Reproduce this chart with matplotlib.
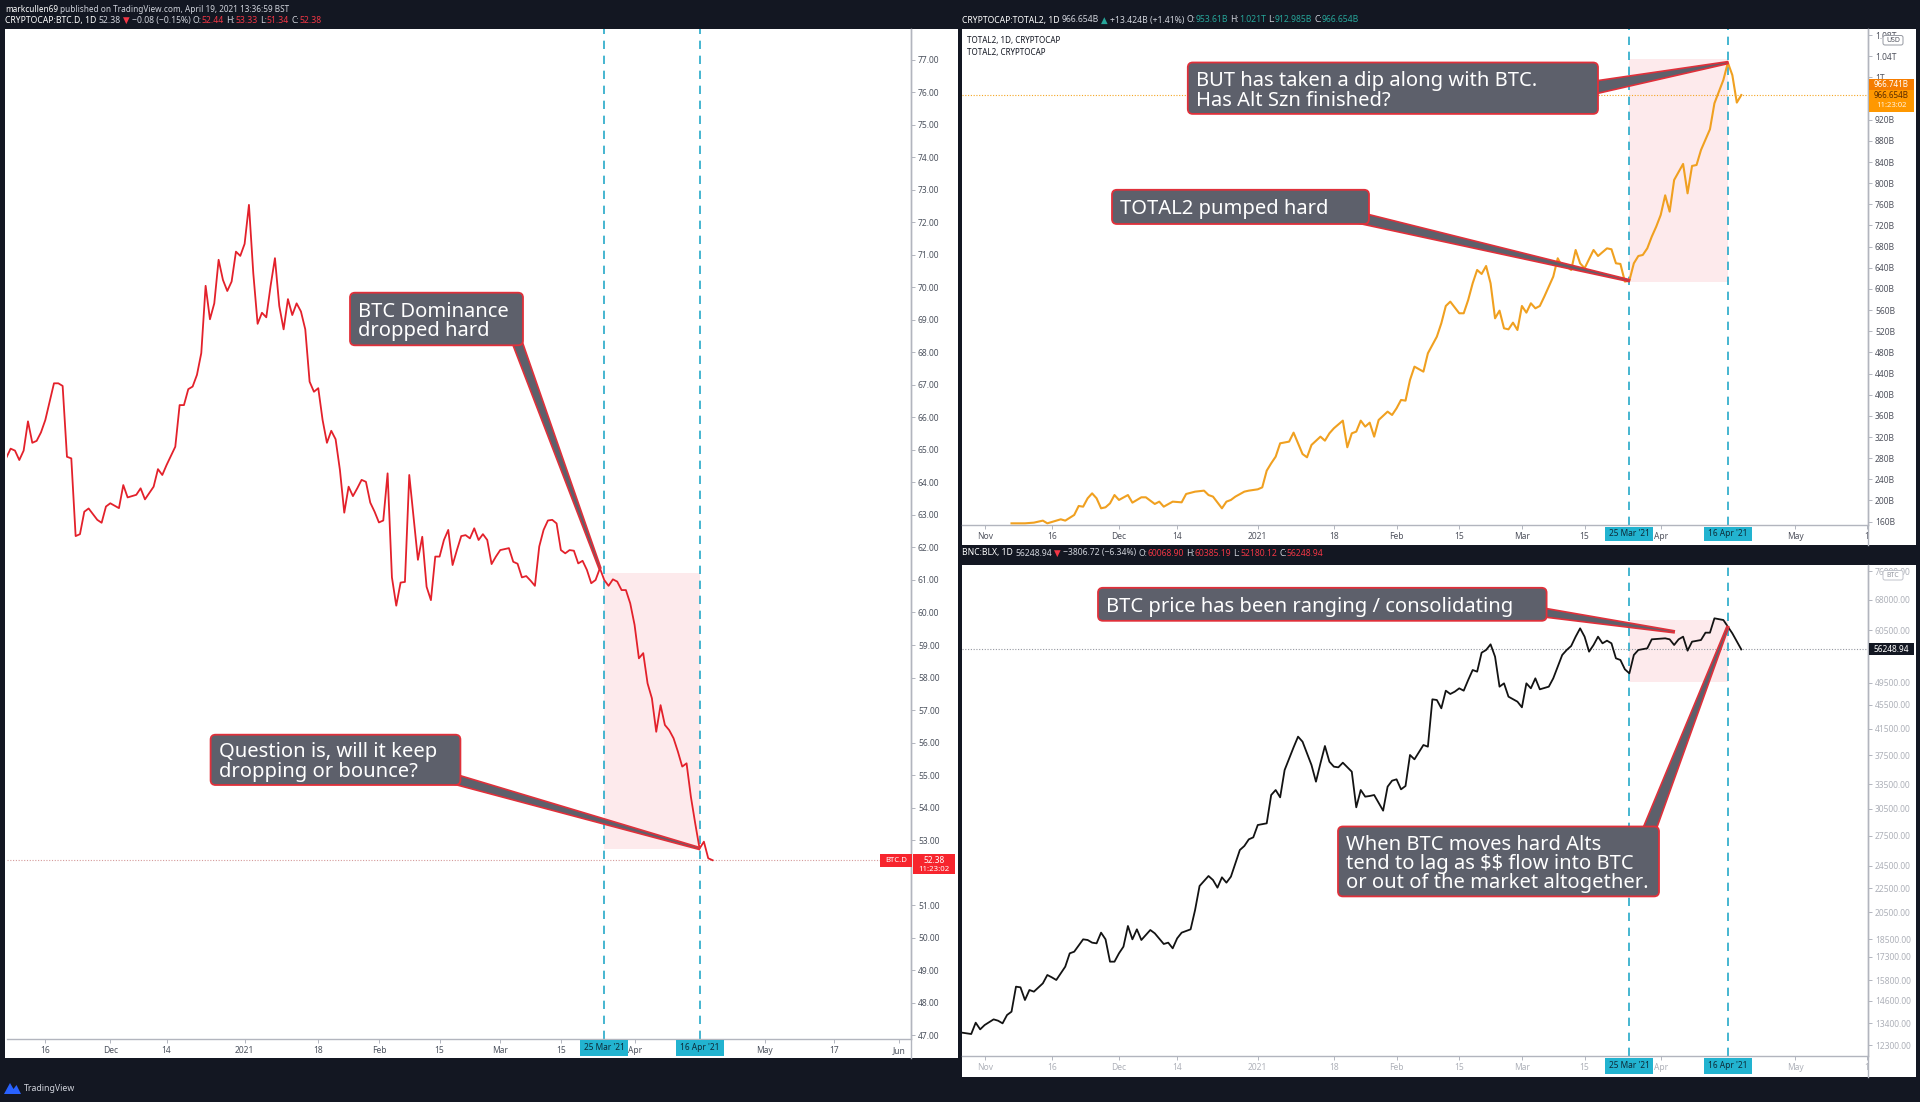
import matplotlib
matplotlib.use("Agg")
import math
import matplotlib.pyplot as plt
import matplotlib.dates as mdates
from matplotlib.patches import Rectangle, FancyBboxPatch, Polygon
from matplotlib.lines import Line2D
from matplotlib.transforms import IdentityTransform
from matplotlib.ticker import NullLocator, NullFormatter
import pandas as pd

plt.rcParams['font.family'] = ['Noto Sans', 'DejaVu Sans']

# ---------------- data ----------------
btcd_start = '2020-11-16'
btcd_day = [-9,-8,-7,-6,-5,-4,-3,-2,-1,0,2,3,4,5,6,7,8,9,10,12,13,14,15,17,18,19,21,22,23,25,26,27,28,
            30,31,32,33,34,35,36,37,38,39,40,41,42,43,44,45,46,47,48,49,50,51,52,53,54,55,56,57,58,59,60,
            61,62,63,64,65,66,67,68,69,70,71,72,73,74,75,76,77,78,79,80,81,82,83,84,
            86,87,88,89,90,91,92,93,94,95,96,97,98,99,100,101,102,103,104,105,
            107,108,109,110,111,112,113,114,115,116,117,118,119,120,121,122,123,124,125,126,127,128,129,130,
            131,132,133,134,135,136,137,138,139,140,141,142,143,144,145,146,147,148,149,150,151,152,153,154]
btcd_val = [64.76,65.04,64.98,64.69,64.98,65.88,65.22,65.28,65.54,65.92,
            67.05,67.05,66.97,64.79,64.74,62.35,62.41,63.10,63.20,
            62.85,62.76,63.26,63.36, 63.21,63.92,63.54, 63.62,63.82,63.48, 63.87,64.41,64.23,64.54,
            65.10,66.38,66.38,66.87,66.95,67.31,67.98,70.05,69.02,69.51,70.85,70.23,69.89,70.18,71.10,70.97,
            71.34,72.54,70.44,68.88,69.22,69.08,70.05,70.90,69.43,68.71,69.64,69.15,69.51,69.26,68.71,
            67.10,66.79,66.90,65.92,65.22,65.59,65.33,64.38,63.07,63.87,63.58,63.82,64.08,64.02,63.38,
            63.10,62.77,62.83,64.28,61.08,60.21,60.92,60.94,64.23,
            61.62,62.33,60.79,60.38,61.72,61.72,62.23,62.54,61.46,61.92,62.35,62.38,62.28,62.59,62.23,
            62.41,62.23,61.49,61.72,61.92,
            61.98,61.56,61.50,61.08,61.12,60.98,60.82,62.03,62.54,62.83,62.85,62.74,61.92,61.82,61.92,
            61.90,61.51,61.59,61.31,60.90,61.00,61.36,61.00,60.82,61.02,60.95,60.69,60.69,60.28,59.62,
            58.59,58.75,57.82,57.36,56.33,57.15,56.54,56.38,56.13,55.72,55.26,55.36,54.33,53.51,52.74,
            52.95,52.44,52.38]

total2_start = '2020-11-01'
total2_day = [6,9,11,13,14,17,18,20,21,22,23,24,25,26,27,28,29,30,32,33,35,36,38,39,40,42,44,45,47,49,50,51,
              53,54,55,56,58,59,61,62,63,64,65,66,68,69,70,71,72,73,75,76,77,78,80,81,82,83,84,85,86,87,88,
              90,91,92,93,94,95,96,98,99,101,102,103,104,106,107,108,109,110,111,112,113,114,115,116,117,118,
              119,120,121,122,123,124,125,127,128,129,130,131,132,133,134,136,137,139,140,141,142,143,144,145,
              146,147,148,149,150,151,152,153,154,156,157,158,159,160,162,163,165,166,167,168,169]
total2_val = [156.8,156.8,158.1,161.9,156.8,164.4,161.9,172.6,189.6,188.3,204.1,213.5,204.1,185.2,187.1,
              194.6,210.3,201.0,210.3,195.9,206.0,206.0,193.4,197.8,188.3,197.8,196.5,212.3,216.7,218.6,
              210.3,207.3,185.2,197.8,201.0,207.3,216.7,218.6,221.1,224.8,256.4,270.3,282.9,308.1,311.3,
              328.3,308.1,287.9,281.6,305.0,320.7,313.1,327.0,336.5,351.0,300.6,327.0,330.2,351.0,339.7,
              347.2,320.7,352.2,368.0,361.7,374.3,390.1,388.8,427.8,453.1,443.6,478.4,509.8,535.1,567.8,
              576.0,554.0,554.0,579.2,610.7,635.9,628.3,643.4,610.7,544.5,559.0,525.6,523.6,536.3,522.4,
              567.8,555.2,572.9,563.4,567.8,585.5,623.3,658.0,642.2,642.2,635.9,673.7,648.5,639.1,673.7,
              662.3,676.8,675.0,648.5,647.3,613.9,615.7,648.5,662.3,664.3,676.8,698.9,717.9,739.9,777.1,
              746.2,806.1,836.4,780.8,832.6,834.4,862.8,902.0,951.1,995.3,1028.0,1004.3,952.4,966.654]

btc_start = '2020-11-01'
btc_day = [-5,-3,-2,-1,0,2,3,4,5,6,7,8,9,10,11,13,14,15,16,18,19,20,22,23,24,25,26,27,28,29,30,31,32,33,34,
           35,36,37,38,40,41,42,43,44,46,47,48,50,51,52,53,54,55,57,58,59,60,61,63,64,65,66,67,69,70,71,73,
           74,75,76,77,78,79,80,82,83,84,85,86,87,89,90,91,92,93,94,95,96,98,99,100,101,102,103,104,105,106,
           107,108,109,110,111,112,113,114,115,116,117,119,120,121,122,123,124,126,127,128,129,130,131,132,
           133,134,135,136,137,138,139,140,141,142,143,144,145,146,148,149,152,153,154,155,156,157,158,160,
           161,162,163,165,166,167,169]
btc_val = [12917,12851,13422,13083,13302,
           13595,13525,13388,13824,14002,15413,15373,14643,15217,15120,
           15611,16119,15975,15813,
           16642,17516,17628,
           18484,18437,18250,18202,18964,18484,16965,16965,17516,17971,19455,18484,19207,18437,18794,19158,18915,
           18157,18250,17856,18555,18964,
           19207,20687,22683,
           23571,23211,22539,23451,22975,23510,
           26045,26449,27132,27341,28667,
           28852,32166,32790,31881,35405,
           38625,40241,39476,
           36092,33857,36324,38823,36557,35862,35772,36415,
           35179,30681,32790,31961,32044,32166,
           30291,33212,33985,34162,32875,33298,37506,36888,
           38974,38725,46442,46322,44866,48011,47405,47828,48445,48011,50019,51978,51647,55552,56126,57358,
           54709,48755,49384,46919,
           46029,45039,49384,48445,50341,48260,
           48755,50341,52645,55058,56126,56991,59069,60990,59069,55768,57215,59069,57582,58172,57582,54359,
           54012,52113,51317,55058,56126,
           56487,58470,
           58698,58470,57215,58470,59069,55982,57946,
           58318,59985,59985,63379,
           62974,61382,59830,
           56248.94]

marker_dates = ['2021-03-25', '2021-04-16']
marker_labels = ["25 Mar '21", "16 Apr '21"]

btcd_last, total2_last, btc_last = 52.38, 966.654, 56248.94
btcd_zone = (52.74, 61.22)
total2_zone = (613.9, 1035.3)
btc_zone = (49640, 63070)

left_yticks = [v for v in range(47, 78) if v != 52]
left_xtick_dates = ['2020-11-16','2020-12-01','2020-12-14','2021-01-01','2021-01-18','2021-02-01',
                    '2021-02-15','2021-03-01','2021-03-15','2021-04-01','2021-05-01','2021-05-17','2021-06-01']
left_xtick_labels = ['16','Dec','14','2021','18','Feb','15','Mar','15','Apr','May','17','Jun']
right_xtick_dates = ['2020-11-01','2020-11-16','2020-12-01','2020-12-14','2021-01-01','2021-01-18',
                     '2021-02-01','2021-02-15','2021-03-01','2021-03-15','2021-04-01','2021-05-01','2021-05-17']
right_xtick_labels = ['Nov','16','Dec','14','2021','18','Feb','15','Mar','15','Apr','May','1']
total2_yticks = [v for v in range(160, 1081, 40) if v != 960]
total2_ylabels = [('1T' if v == 1000 else f'{v/1000:.2f}T') if v >= 1000 else f'{v}B' for v in total2_yticks]
btc_yticks = [12300,13400,14600,15800,17300,18500,20500,22500,24500,27500,30500,33500,37500,41500,
              45500,49500,60500,68000,76000]

# ---------------- figure helpers ----------------
W, H = 1920, 1102
BG = '#131722'
RED = '#f23645'
GREEN = '#26a69a'
LIGHT = '#d1d4dc'
CALL_BG = '#5d606b'
CALL_EDGE = '#e0303a'
CYAN = '#26a9c8'

fig = plt.figure(figsize=(W / 100, H / 100), dpi=100)
fig.patch.set_facecolor(BG)


def dnum(s):
    return mdates.date2num(pd.Timestamp(s))


def to_dates(start, days):
    return pd.Timestamp(start) + pd.to_timedelta(days, unit='D')


def add_ax(x0, y0, x1, y1):
    return fig.add_axes([x0 / W, 1 - y1 / H, (x1 - x0) / W, (y1 - y0) / H])


def prect(x0, y0, x1, y1, **kw):
    p = Rectangle((x0, H - y1), x1 - x0, y1 - y0, transform=IdentityTransform(), **kw)
    fig.add_artist(p)
    return p


def pline(x0, y0, x1, y1, **kw):
    fig.add_artist(Line2D([x0, x1], [H - y0, H - y1], transform=IdentityTransform(), **kw))


def ptext(x, y, s, **kw):
    return fig.text(x / W, 1 - y / H, s, parse_math=False, **kw)


def data_px(ax, x, y):
    dx, dy = ax.transData.transform((x, y))
    return dx, H - dy


def style(ax, lab_color):
    ax.set_facecolor('white')
    for s in ['top', 'left']:
        ax.spines[s].set_visible(False)
    for s in ['right', 'bottom']:
        ax.spines[s].set_color('#b2b5be')
        ax.spines[s].set_linewidth(1)
    ax.yaxis.tick_right()
    ax.tick_params(axis='both', which='major', length=3, width=0.7, color='#b2b5be',
                   labelsize=6.1, labelcolor=lab_color, pad=2)
    ax.tick_params(axis='both', which='minor', length=0)


def callout(ax, text, box, anchor, half_w, tip, fs=14.5, step=20):
    x0, y0, x1, y1 = box
    tx, ty = ax.transData.transform(tip)
    ax_, ay_ = anchor[0], H - anchor[1]
    dx, dy = tx - ax_, ty - ay_
    L = math.hypot(dx, dy)
    px, py = -dy / L, dx / L
    pts = [(ax_ + px * half_w, ay_ + py * half_w), (tx + px * 1.0, ty + py * 1.0),
           (tx - px * 1.0, ty - py * 1.0), (ax_ - px * half_w, ay_ - py * half_w)]
    fig.add_artist(Polygon(pts, closed=True, transform=IdentityTransform(), facecolor=CALL_BG,
                           edgecolor=CALL_EDGE, lw=1.2, joinstyle='miter', zorder=5))
    fig.add_artist(FancyBboxPatch((x0, H - y1), x1 - x0, y1 - y0,
                                  boxstyle='round,pad=0,rounding_size=5', transform=IdentityTransform(),
                                  facecolor=CALL_BG, edgecolor=CALL_EDGE, lw=1.3, zorder=6))
    lines = text.split('\n')
    cy = (y0 + y1) / 2
    n = len(lines)
    for i, ln in enumerate(lines):
        ptext(x0 + 8, cy + (i - (n - 1) / 2) * step, ln, color='white', fontsize=fs,
              ha='left', va='center_baseline', zorder=7)


def mark_axis(ax, y0, y1, label_color):
    for d, lab in zip(marker_dates, marker_labels):
        x, _ = data_px(ax, dnum(d), ax.get_ylim()[0])
        prect(x - 24, y0, x + 24, y1, facecolor='#22b3d0', lw=0, zorder=4)
        ptext(x, (y0 + y1) / 2, lab, fontsize=6.0, color=label_color, ha='center', va='center', zorder=5)


def decorate(ax, zone):
    for d in marker_dates:
        ax.axvline(dnum(d), color=CYAN, lw=1.2, ls=(0, (5, 4)), zorder=2)
    x1, x2 = dnum(marker_dates[0]), dnum(marker_dates[1])
    ax.add_patch(Rectangle((x1, zone[0]), x2 - x1, zone[1] - zone[0], facecolor=RED, alpha=0.1,
                           lw=0, zorder=1))


def seg_line(x, y, segs, target_w, base=6.0):
    r = fig.canvas.get_renderer()

    def width(s, size, w='normal'):
        t = fig.text(0, 0, s, fontsize=size, fontweight=w, parse_math=False)
        bb = t.get_window_extent(renderer=r).width
        t.remove()
        return bb

    def layout(size, draw):
        sp = width('x x', size) - width('xx', size)
        cx = x
        for s, c, w in segs:
            if s.startswith(' '):
                cx += sp
                s = s[1:]
            if draw:
                ptext(cx, y, s, color=c, fontsize=size, fontweight=w, ha='left', va='center')
            cx += width(s, size, w)
        return cx - x

    tot = layout(base, False)
    layout(base * target_w / tot, True)


# ---------------- panels background ----------------
prect(5, 29, 958, 1058, facecolor='white', lw=0, zorder=0)
prect(962, 29, 1916, 545, facecolor='white', lw=0, zorder=0)
prect(962, 565, 1916, 1077, facecolor='white', lw=0, zorder=0)

# ---------------- left: BTC dominance ----------------
axL = add_ax(7, 29.3, 911, 1039)
style(axL, '#4c525e')
axL.plot(to_dates(btcd_start, btcd_day), btcd_val, color='#e3212b', lw=1.3, zorder=3)
x0L = dnum(btcd_start)
axL.set_xlim(x0L - 8.84, x0L + 199.8)
axL.set_ylim(46.88, 77.94)
axL.set_yticks(left_yticks)
axL.set_yticklabels([f'{v:.2f}' for v in left_yticks])
axL.set_xticks([dnum(d) for d in left_xtick_dates])
axL.set_xticklabels(left_xtick_labels)
decorate(axL, btcd_zone)
axL.axhline(btcd_last, color='#d49a9a', lw=0.8, ls=(0, (1, 1.5)), zorder=2)
pline(911, 29, 911, 1058, color='#b2b5be', lw=1)
mark_axis(axL, 1040, 1055.5, '#0d2a38')

btcd_map = dict(zip(btcd_day, btcd_val))
callout(axL, 'BTC Dominance\ndropped hard', (350, 292.7, 523, 345.3), (516, 339), 5,
        (dnum('2021-03-24'), btcd_map[128]))
callout(axL, 'Question is, will it keep\ndropping or bounce?', (210.6, 734.7, 460.4, 785), (454, 779), 5,
        (dnum('2021-04-16'), btcd_map[151]))

_, yl = data_px(axL, x0L, btcd_last)
prect(880, yl - 6.5, 912, yl + 6.5, facecolor='#f7252e', lw=0, zorder=4)
ptext(896, yl, 'BTC.D', color='white', fontsize=5.6, ha='center', va='center', zorder=5)
prect(913, yl - 6.5, 955, yl + 14, facecolor='#f7252e', lw=0, zorder=4)
ptext(934, yl, f'{btcd_last:.2f}', color='white', fontsize=6.0, ha='center', va='center', zorder=5)
ptext(934, yl + 9.5, '11:23:02', color='white', fontsize=5.6, ha='center', va='center', zorder=5)

# ---------------- top right: TOTAL2 ----------------
axT = add_ax(962, 29.3, 1868, 524.7)
style(axT, '#50535e')
axT.plot(to_dates(total2_start, total2_day), total2_val, color='#f0a020', lw=1.5, zorder=3)
x0R = dnum(total2_start)
axT.set_xlim(x0R - 5.06, x0R + 197.3)
axT.set_ylim(154.2, 1091.0)
axT.set_yticks(total2_yticks)
axT.set_yticklabels(total2_ylabels)
axT.set_xticks([dnum(d) for d in right_xtick_dates])
axT.set_xticklabels(right_xtick_labels)
decorate(axT, total2_zone)
axT.axhline(total2_last, color='#f5a623', lw=0.8, ls=(0, (1, 1.5)), zorder=2)
pline(1868, 29, 1868, 545, color='#b2b5be', lw=1)
mark_axis(axT, 526.5, 541, '#0d2a38')

t2_map = dict(zip(total2_day, total2_val))
callout(axT, 'BUT has taken a dip along with BTC.\nHas Alt Szn finished?', (1187.8, 62.5, 1598, 113.9),
        (1592, 88), 6.5, (dnum('2021-04-16'), t2_map[166]))
callout(axT, 'TOTAL2 pumped hard', (1112, 189.8, 1369, 224), (1360, 218), 5.5,
        (dnum('2021-03-25'), t2_map[144]))

ptext(967, 41, 'TOTAL2, 1D, CRYPTOCAP', color='#131722', fontsize=5.8, fontweight='bold',
      ha='left', va='center')
ptext(967, 53, 'TOTAL2, CRYPTOCAP', color='#131722', fontsize=5.8, ha='left', va='center')

_, yt = data_px(axT, x0R, total2_last)
prect(1869, 79, 1914, 89.5, facecolor='#f57c00', lw=0, zorder=4)
ptext(1891.5, 84.3, '966.741B', color='white', fontsize=5.8, ha='center', va='center', zorder=5)
prect(1869, 89.5, 1914, 112, facecolor='#ff9800', lw=0, zorder=4)
ptext(1891.5, yt, f'{total2_last:.3f}B', color='#5a2d00', fontsize=5.8, ha='center', va='center', zorder=5)
ptext(1891.5, 106, '11:23:02', color='#fff3e0', fontsize=5.5, ha='center', va='center', zorder=5)
fig.add_artist(FancyBboxPatch((1883, H - 45), 20, 9.5, boxstyle='round,pad=0,rounding_size=2',
                              transform=IdentityTransform(), facecolor='white', edgecolor='#9598a1',
                              lw=0.7, zorder=4))
ptext(1893, 40.3, 'USD', color='#50535e', fontsize=5, ha='center', va='center', zorder=5)

# ---------------- bottom right: BTC ----------------
axB = add_ax(962, 566, 1868, 1056)
style(axB, '#aeb1b9')
axB.set_yscale('log')
axB.plot(to_dates(btc_start, btc_day), btc_val, color='#131313', lw=1.3, zorder=3)
axB.set_xlim(x0R - 5.06, x0R + 197.3)
axB.set_ylim(11811, 77480)
axB.yaxis.set_minor_locator(NullLocator())
axB.yaxis.set_minor_formatter(NullFormatter())
axB.set_yticks(btc_yticks)
axB.set_yticklabels([f'{v:.2f}' for v in btc_yticks])
axB.yaxis.set_minor_locator(NullLocator())
axB.set_xticks([dnum(d) for d in right_xtick_dates])
axB.set_xticklabels(right_xtick_labels)
decorate(axB, btc_zone)
axB.axhline(btc_last, color='#9598a1', lw=0.8, ls=(0, (1, 1.5)), zorder=2)
pline(1868, 565, 1868, 1077, color='#b2b5be', lw=1)
mark_axis(axB, 1058, 1074, '#0d2a38')

btc_map = dict(zip(btc_day, btc_val))
callout(axB, 'BTC price has been ranging / consolidating', (1098, 587.8, 1546.6, 620.8), (1540, 612), 4.5,
        (dnum('2021-04-04'), 60190))
callout(axB, 'When BTC moves hard Alts\ntend to lag as $$ flow into BTC\nor out of the market altogether.',
        (1338, 826.5, 1659, 896.4), (1648, 833), 6.5, (dnum('2021-04-16'), btc_map[166]), step=19.3)

_, yb = data_px(axB, x0R, btc_last)
prect(1869, yb - 6, 1914, yb + 6, facecolor='#131722', lw=0, zorder=4)
ptext(1891.5, yb, f'{btc_last:.2f}', color='white', fontsize=6.0, ha='center', va='center', zorder=5)
fig.add_artist(FancyBboxPatch((1883, H - 580), 20, 9.5, boxstyle='round,pad=0,rounding_size=2',
                              transform=IdentityTransform(), facecolor='white', edgecolor='#c0c3ca',
                              lw=0.7, zorder=4))
ptext(1893, 575.3, 'BTC', color='#9598a1', fontsize=5, ha='center', va='center', zorder=5)

# ---------------- headers ----------------
seg_line(5, 9, [('markcullen69', '#ffffff', 'bold'),
                (' published on TradingView.com, April 19, 2021 13:36:59 BST', LIGHT, 'normal')], 284)
seg_line(5, 20.8, [('CRYPTOCAP:BTC.D, 1D', '#ffffff', 'bold'), (' 52.38', LIGHT, 'normal'),
                   (' ▼', RED, 'normal'), (' −0.08 (−0.15%)', LIGHT, 'normal'), (' O:', LIGHT, 'normal'),
                   ('52.44', RED, 'normal'), (' H:', LIGHT, 'normal'), ('53.33', RED, 'normal'),
                   (' L:', LIGHT, 'normal'), ('51.34', RED, 'normal'), (' C:', LIGHT, 'normal'),
                   ('52.38', RED, 'normal')], 316)
seg_line(962, 20, [('CRYPTOCAP:TOTAL2, 1D', '#ffffff', 'bold'), (' 966.654B', LIGHT, 'normal'),
                   (' ▲', GREEN, 'normal'), (' +13.424B (+1.41%)', LIGHT, 'normal'), (' O:', LIGHT, 'normal'),
                   ('953.61B', GREEN, 'normal'), (' H:', LIGHT, 'normal'), ('1.021T', GREEN, 'normal'),
                   (' L:', LIGHT, 'normal'), ('912.985B', GREEN, 'normal'), (' C:', LIGHT, 'normal'),
                   ('966.654B', GREEN, 'normal')], 398)
seg_line(962, 553, [('BNC:BLX, 1D', '#ffffff', 'bold'), (' 56248.94', LIGHT, 'normal'),
                    (' ▼', RED, 'normal'), (' −3806.72 (−6.34%)', LIGHT, 'normal'), (' O:', LIGHT, 'normal'),
                    ('60068.90', RED, 'normal'), (' H:', LIGHT, 'normal'), ('60385.19', RED, 'normal'),
                    (' L:', LIGHT, 'normal'), ('52180.12', RED, 'normal'), (' C:', LIGHT, 'normal'),
                    ('56248.94', RED, 'normal')], 362)

# footer logo
fig.add_artist(Polygon([(4, H - 1094), (10, H - 1083), (13.5, H - 1089), (16.5, H - 1085), (21, H - 1094)],
                       closed=True, transform=IdentityTransform(), facecolor='#2962ff', lw=0))
ptext(24, 1088.5, 'TradingView', color='#d1d4dc', fontsize=6.3, ha='left', va='center')

fig.savefig('out.png', dpi=100, facecolor=fig.get_facecolor())
